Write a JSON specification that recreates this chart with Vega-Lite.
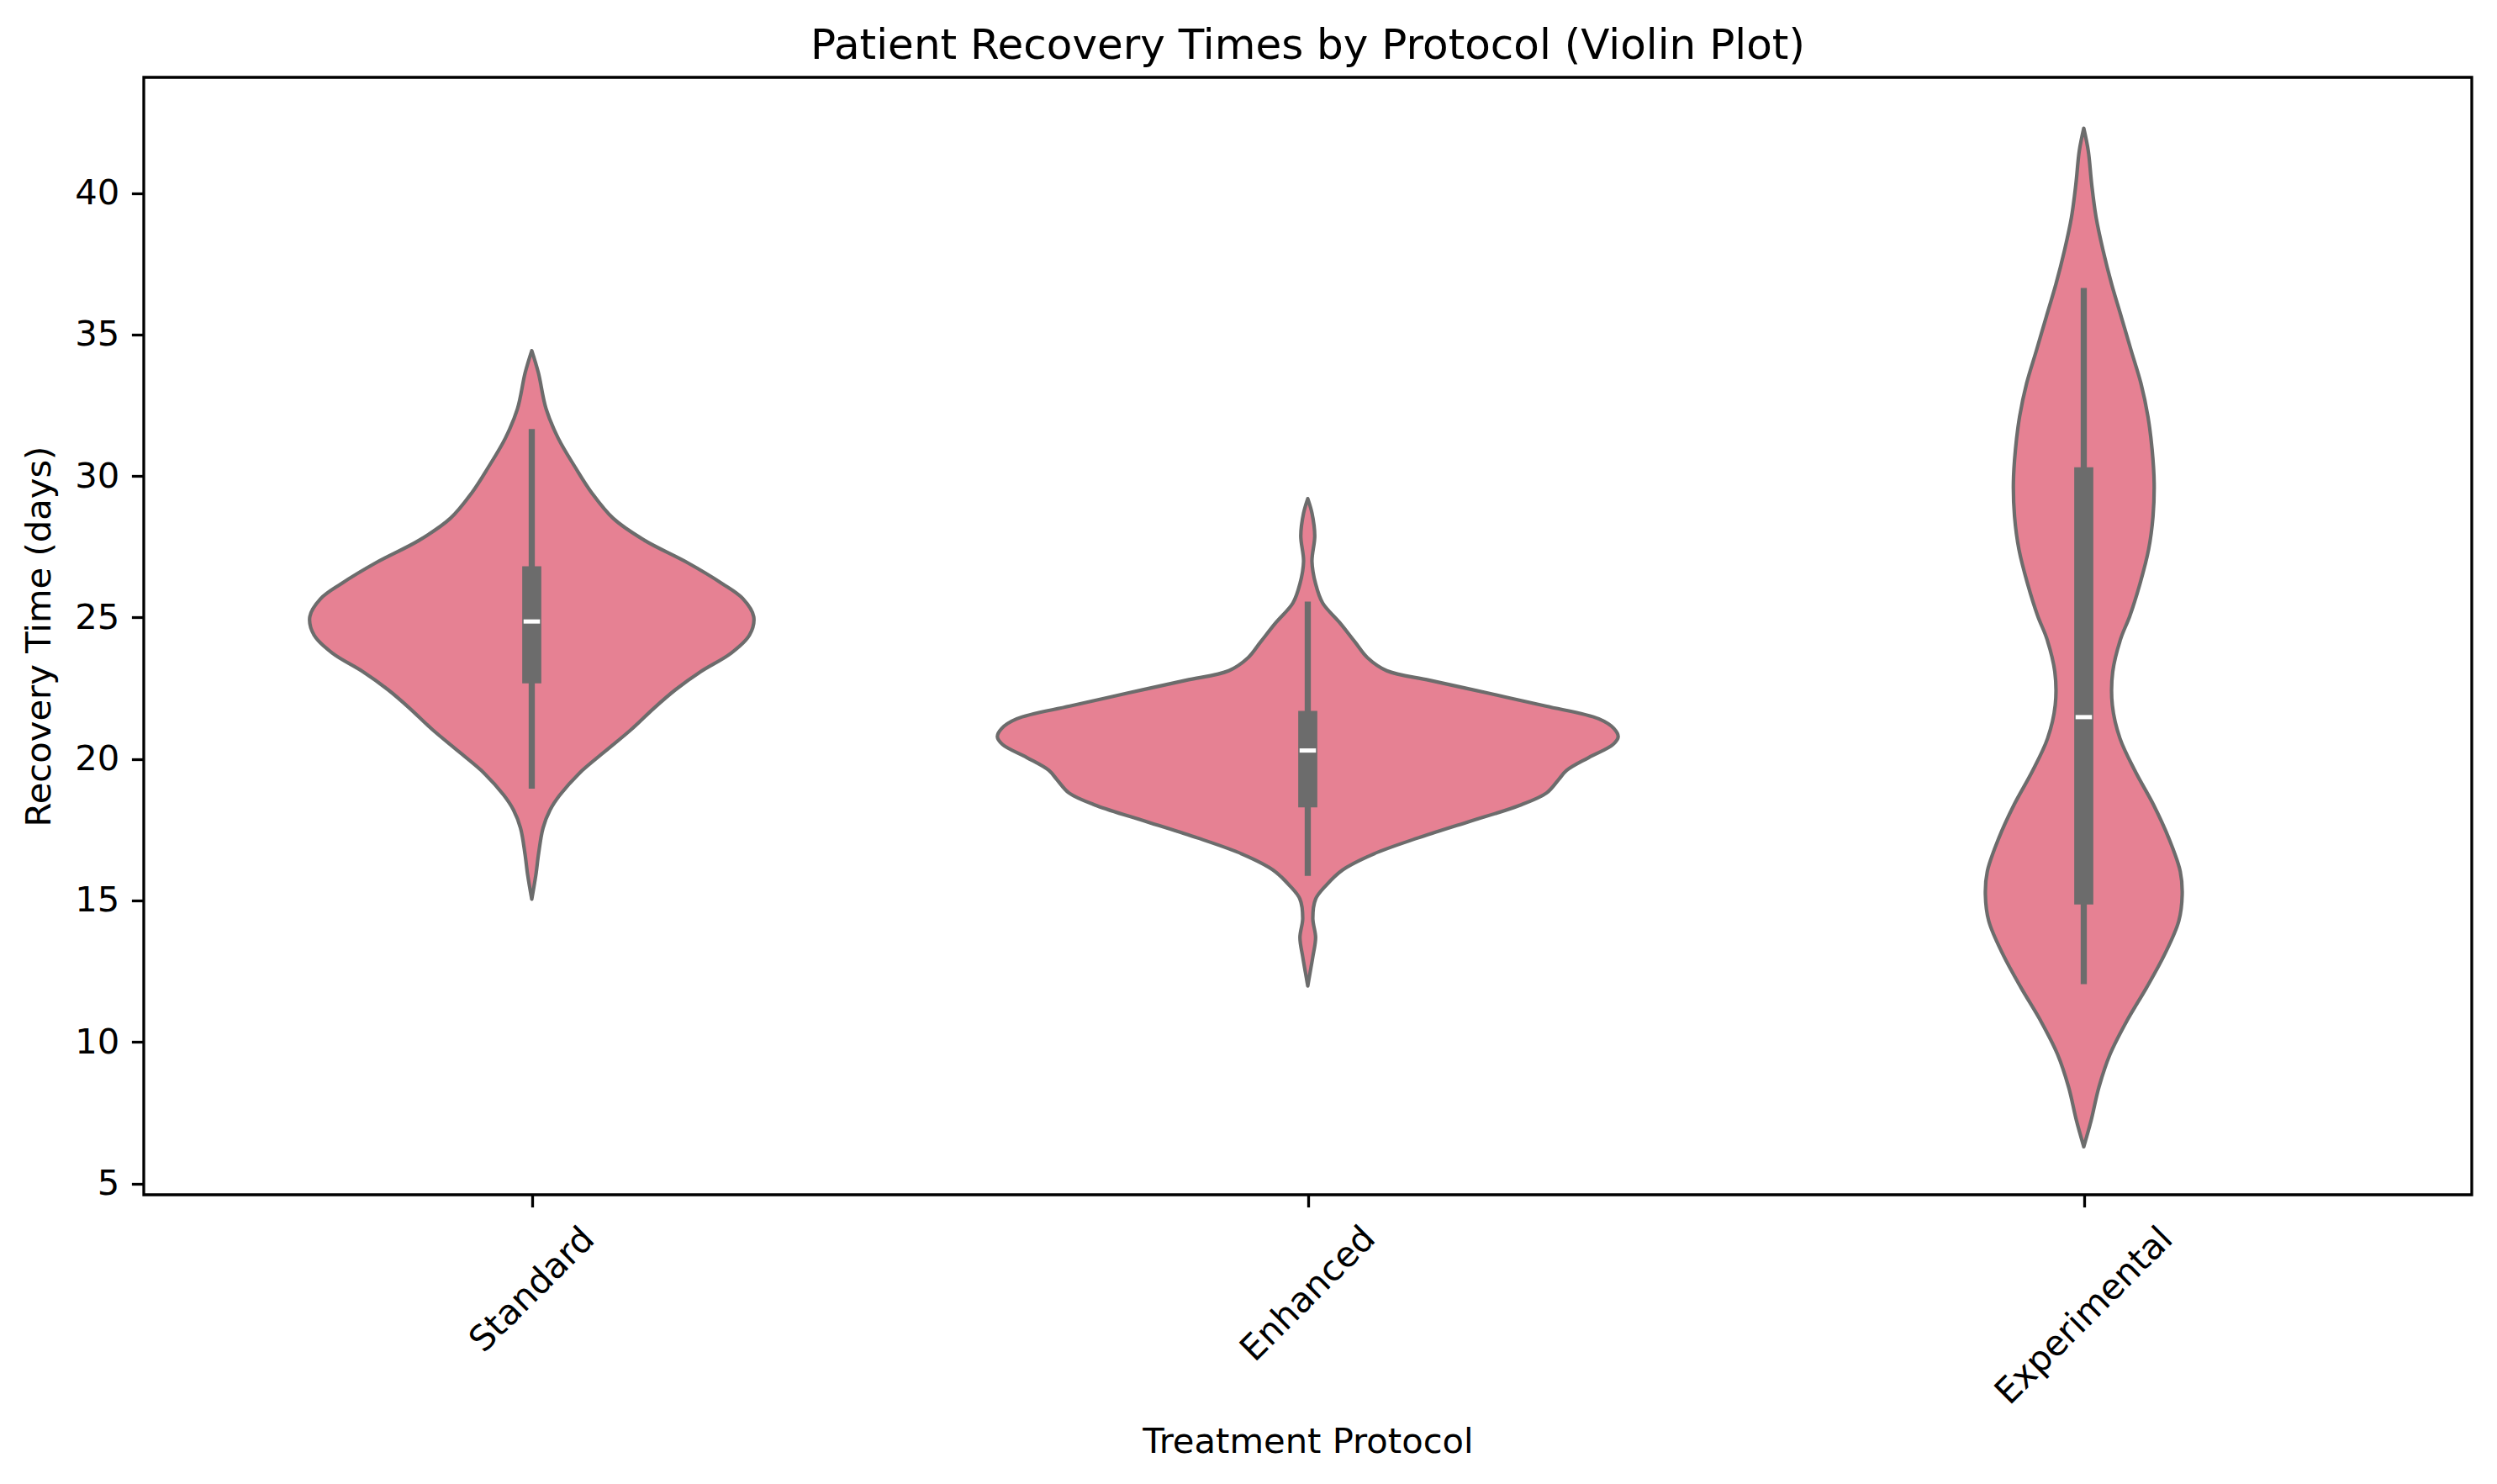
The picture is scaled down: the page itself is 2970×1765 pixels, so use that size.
{
  "$schema": "https://vega.github.io/schema/vega-lite/v6.json",
  "width": 2769,
  "height": 1329,
  "autosize": {"type": "none"},
  "padding": {"left": 171, "top": 92, "right": 30, "bottom": 344},
  "background": "white",
  "title": {
    "text": "Patient Recovery Times by Protocol (Violin Plot)",
    "font": "DejaVu Sans",
    "fontSize": 50,
    "fontWeight": "normal",
    "color": "black",
    "anchor": "middle",
    "frame": "group",
    "baseline": "alphabetic",
    "offset": 26,
    "dy": 54
  },
  "config": {
    "view": {"stroke": "black", "strokeWidth": 3.3},
    "axis": {
      "grid": false,
      "domain": false,
      "tickColor": "black",
      "tickSize": 14.6,
      "tickWidth": 3.3,
      "labelFont": "DejaVu Sans",
      "labelFontSize": 41.7,
      "labelColor": "black",
      "labelLimit": 0,
      "titleFont": "DejaVu Sans",
      "titleFontSize": 41.7,
      "titleFontWeight": "normal",
      "titleColor": "black",
      "labelOverlap": false,
      "labelFlush": false,
      "labelBound": false
    }
  },
  "datasets": {
    "density": [
      {"protocol": "Standard", "v": 34.43, "hw": 0},
      {"protocol": "Standard", "v": 33.65, "hw": 0.0085},
      {"protocol": "Standard", "v": 32.37, "hw": 0.0185},
      {"protocol": "Standard", "v": 31.34, "hw": 0.034},
      {"protocol": "Standard", "v": 30.31, "hw": 0.056},
      {"protocol": "Standard", "v": 29.4, "hw": 0.0775},
      {"protocol": "Standard", "v": 28.5, "hw": 0.1051},
      {"protocol": "Standard", "v": 27.73, "hw": 0.1452},
      {"protocol": "Standard", "v": 26.96, "hw": 0.1993},
      {"protocol": "Standard", "v": 26.19, "hw": 0.2459},
      {"protocol": "Standard", "v": 25.67, "hw": 0.2719},
      {"protocol": "Standard", "v": 25.03, "hw": 0.286},
      {"protocol": "Standard", "v": 24.38, "hw": 0.2806},
      {"protocol": "Standard", "v": 23.74, "hw": 0.2568},
      {"protocol": "Standard", "v": 23.09, "hw": 0.2178},
      {"protocol": "Standard", "v": 22.45, "hw": 0.1853},
      {"protocol": "Standard", "v": 21.81, "hw": 0.158},
      {"protocol": "Standard", "v": 21.04, "hw": 0.128},
      {"protocol": "Standard", "v": 20.26, "hw": 0.094},
      {"protocol": "Standard", "v": 19.49, "hw": 0.061},
      {"protocol": "Standard", "v": 18.72, "hw": 0.036},
      {"protocol": "Standard", "v": 18.2, "hw": 0.0236},
      {"protocol": "Standard", "v": 17.56, "hw": 0.0145},
      {"protocol": "Standard", "v": 16.66, "hw": 0.0088},
      {"protocol": "Standard", "v": 15.89, "hw": 0.0052},
      {"protocol": "Standard", "v": 15.05, "hw": 0},

      {"protocol": "Enhanced", "v": 29.2, "hw": 0},
      {"protocol": "Enhanced", "v": 28.69, "hw": 0.0054},
      {"protocol": "Enhanced", "v": 27.89, "hw": 0.009},
      {"protocol": "Enhanced", "v": 26.98, "hw": 0.0054},
      {"protocol": "Enhanced", "v": 26.19, "hw": 0.0101},
      {"protocol": "Enhanced", "v": 25.51, "hw": 0.0192},
      {"protocol": "Enhanced", "v": 24.83, "hw": 0.0408},
      {"protocol": "Enhanced", "v": 24.14, "hw": 0.0607},
      {"protocol": "Enhanced", "v": 23.58, "hw": 0.0769},
      {"protocol": "Enhanced", "v": 23.12, "hw": 0.1018},
      {"protocol": "Enhanced", "v": 22.78, "hw": 0.1571},
      {"protocol": "Enhanced", "v": 22.33, "hw": 0.2319},
      {"protocol": "Enhanced", "v": 21.87, "hw": 0.3066},
      {"protocol": "Enhanced", "v": 21.42, "hw": 0.3749},
      {"protocol": "Enhanced", "v": 21.08, "hw": 0.3944},
      {"protocol": "Enhanced", "v": 20.79, "hw": 0.4},
      {"protocol": "Enhanced", "v": 20.51, "hw": 0.3933},
      {"protocol": "Enhanced", "v": 20.05, "hw": 0.3619},
      {"protocol": "Enhanced", "v": 19.6, "hw": 0.3337},
      {"protocol": "Enhanced", "v": 19.26, "hw": 0.3229},
      {"protocol": "Enhanced", "v": 18.8, "hw": 0.3077},
      {"protocol": "Enhanced", "v": 18.35, "hw": 0.2719},
      {"protocol": "Enhanced", "v": 17.78, "hw": 0.2069},
      {"protocol": "Enhanced", "v": 17.21, "hw": 0.1419},
      {"protocol": "Enhanced", "v": 16.64, "hw": 0.0845},
      {"protocol": "Enhanced", "v": 16.07, "hw": 0.0444},
      {"protocol": "Enhanced", "v": 15.51, "hw": 0.0228},
      {"protocol": "Enhanced", "v": 15.05, "hw": 0.0101},
      {"protocol": "Enhanced", "v": 14.37, "hw": 0.0065},
      {"protocol": "Enhanced", "v": 13.69, "hw": 0.0101},
      {"protocol": "Enhanced", "v": 13.01, "hw": 0.0065},
      {"protocol": "Enhanced", "v": 12.44, "hw": 0.0029},
      {"protocol": "Enhanced", "v": 11.98, "hw": 0},

      {"protocol": "Experimental", "v": 42.29, "hw": 0},
      {"protocol": "Experimental", "v": 41.49, "hw": 0.0058},
      {"protocol": "Experimental", "v": 40.31, "hw": 0.0102},
      {"protocol": "Experimental", "v": 39.14, "hw": 0.0159},
      {"protocol": "Experimental", "v": 37.97, "hw": 0.0249},
      {"protocol": "Experimental", "v": 36.79, "hw": 0.0358},
      {"protocol": "Experimental", "v": 35.62, "hw": 0.0484},
      {"protocol": "Experimental", "v": 34.44, "hw": 0.061},
      {"protocol": "Experimental", "v": 33.27, "hw": 0.0737},
      {"protocol": "Experimental", "v": 32.1, "hw": 0.0827},
      {"protocol": "Experimental", "v": 30.92, "hw": 0.0881},
      {"protocol": "Experimental", "v": 29.75, "hw": 0.0907},
      {"protocol": "Experimental", "v": 28.57, "hw": 0.0892},
      {"protocol": "Experimental", "v": 27.4, "hw": 0.0835},
      {"protocol": "Experimental", "v": 26.22, "hw": 0.0727},
      {"protocol": "Experimental", "v": 25.05, "hw": 0.0593},
      {"protocol": "Experimental", "v": 24.25, "hw": 0.0476},
      {"protocol": "Experimental", "v": 23.08, "hw": 0.0373},
      {"protocol": "Experimental", "v": 21.9, "hw": 0.0368},
      {"protocol": "Experimental", "v": 20.73, "hw": 0.0466},
      {"protocol": "Experimental", "v": 19.56, "hw": 0.0664},
      {"protocol": "Experimental", "v": 18.38, "hw": 0.0899},
      {"protocol": "Experimental", "v": 17.21, "hw": 0.1094},
      {"protocol": "Experimental", "v": 16.03, "hw": 0.1243},
      {"protocol": "Experimental", "v": 15.21, "hw": 0.1268},
      {"protocol": "Experimental", "v": 14.27, "hw": 0.1224},
      {"protocol": "Experimental", "v": 13.1, "hw": 0.1043},
      {"protocol": "Experimental", "v": 11.92, "hw": 0.0809},
      {"protocol": "Experimental", "v": 10.75, "hw": 0.0556},
      {"protocol": "Experimental", "v": 9.57, "hw": 0.0339},
      {"protocol": "Experimental", "v": 8.4, "hw": 0.0195},
      {"protocol": "Experimental", "v": 7.23, "hw": 0.0095},
      {"protocol": "Experimental", "v": 6.3, "hw": 0}
    ],
    "box": [
      {"protocol": "Standard", "whislo": 18.95, "q1": 22.67, "median": 24.86, "q3": 26.81, "whishi": 31.66},
      {"protocol": "Enhanced", "whislo": 15.87, "q1": 18.29, "median": 20.3, "q3": 21.7, "whishi": 25.56},
      {"protocol": "Experimental", "whislo": 12.04, "q1": 14.86, "median": 21.48, "q3": 30.31, "whishi": 36.65}
    ]
  },
  "layer": [
    {
      "data": {"name": "density"},
      "transform": [
        {"calculate": "indexof(['Standard','Enhanced','Experimental'], datum.protocol)", "as": "idx"},
        {"calculate": "datum.idx - datum.hw", "as": "lo"},
        {"calculate": "datum.idx + datum.hw", "as": "hi"}
      ],
      "mark": {
        "type": "area",
        "orient": "horizontal",
        "interpolate": "catmull-rom",
        "fill": "#e68193",
        "fillOpacity": 1,
        "stroke": "#6c6c6c",
        "strokeWidth": 4.2,
        "strokeJoin": "round"
      },
      "encoding": {
        "y": {
          "field": "v",
          "type": "quantitative",
          "title": "Recovery Time (days)",
          "scale": {"domain": [4.6, 44.09], "nice": false, "zero": false},
          "axis": {
            "values": [5, 10, 15, 20, 25, 30, 35, 40],
            "labelPadding": 14.6,
            "titleX": -112,
            "titleBaseline": "alphabetic"
          }
        },
        "x": {
          "field": "lo",
          "type": "quantitative",
          "title": "Treatment Protocol",
          "scale": {"domain": [-0.5, 2.5], "nice": false, "zero": false},
          "axis": {
            "values": [0, 1, 2],
            "labelExpr": "['Standard','Enhanced','Experimental'][datum.value]",
            "labelAngle": -45,
            "labelAlign": "center",
            "labelBaseline": "middle",
            "labelPadding": {
              "condition": [
                {"test": "datum.value == 0", "value": 98},
                {"test": "datum.value == 1", "value": 103}
              ],
              "value": 129
            },
            "titleY": 306,
            "titleBaseline": "alphabetic"
          }
        },
        "x2": {"field": "hi"},
        "detail": {"field": "protocol"}
      }
    },
    {
      "data": {"name": "box"},
      "transform": [
        {"calculate": "indexof(['Standard','Enhanced','Experimental'], datum.protocol)", "as": "idx"}
      ],
      "mark": {"type": "rule", "color": "#6c6c6c", "strokeWidth": 7.3, "strokeCap": "butt"},
      "encoding": {
        "x": {"field": "idx", "type": "quantitative", "title": "Treatment Protocol"},
        "y": {"field": "whislo", "type": "quantitative", "title": "Recovery Time (days)"},
        "y2": {"field": "whishi"}
      }
    },
    {
      "data": {"name": "box"},
      "transform": [
        {"calculate": "indexof(['Standard','Enhanced','Experimental'], datum.protocol)", "as": "idx"}
      ],
      "mark": {"type": "rule", "color": "#6c6c6c", "strokeWidth": 22.7, "strokeCap": "butt"},
      "encoding": {
        "x": {"field": "idx", "type": "quantitative", "title": "Treatment Protocol"},
        "y": {"field": "q1", "type": "quantitative", "title": "Recovery Time (days)"},
        "y2": {"field": "q3"}
      }
    },
    {
      "data": {"name": "box"},
      "transform": [
        {"calculate": "indexof(['Standard','Enhanced','Experimental'], datum.protocol)", "as": "idx"}
      ],
      "mark": {"type": "tick", "orient": "horizontal", "color": "white", "size": 19.5, "thickness": 5, "opacity": 1},
      "encoding": {
        "x": {"field": "idx", "type": "quantitative", "title": "Treatment Protocol"},
        "y": {"field": "median", "type": "quantitative", "title": "Recovery Time (days)"}
      }
    }
  ]
}
